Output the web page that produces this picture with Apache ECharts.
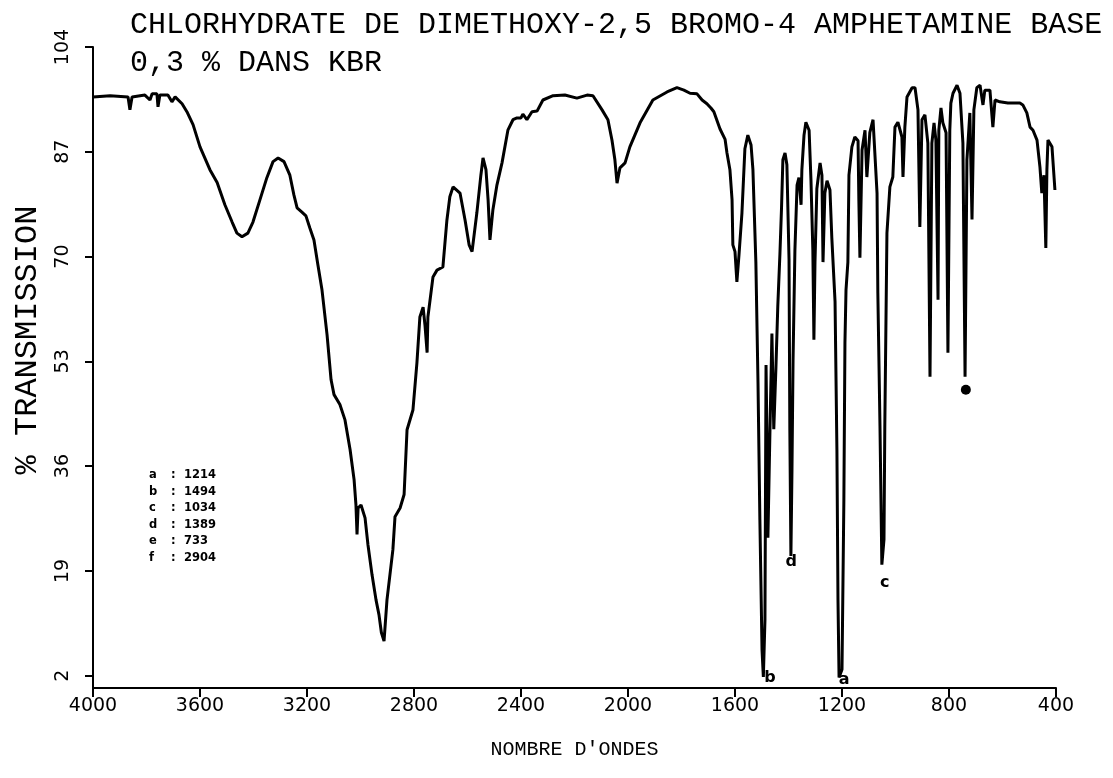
<!DOCTYPE html>
<html>
<head>
<meta charset="utf-8">
<script src="https://cdn.jsdelivr.net/npm/echarts@6/dist/echarts.min.js"></script>
<style>
html,body{margin:0;padding:0;background:#fff;}
#chart{width:1113px;height:778px;}
</style>
</head>
<body>
<div id="chart"></div>
<script>
// ---- data ----
const titleLine1 = "CHLORHYDRATE DE DIMETHOXY-2,5 BROMO-4 AMPHETAMINE BASE";
const titleLine2 = "0,3 % DANS KBR";
const xAxisName = "NOMBRE D'ONDES";
const yAxisName = "% TRANSMISSION";
const yTickValues = [2, 19, 36, 53, 70, 87, 104];

const wavenumbers = [
 4000,3936,3869,3862,3854,3806,3787,3779,3761,3757,3750,3720,3705,3693,3667,3649,3626,3600,3563,3536,
 3507,3480,3462,3443,3421,3402,3376,3350,3327,3308,3286,3264,3249,3237,3219,3204,3189,3174,3159,3144,
 3125,3110,3099,3077,3058,3039,3024,3017,3013,3009,2998,2983,2972,2957,2942,2931,2922,2912,2901,2879,
 2871,2852,2837,2826,2804,2789,2778,2766,2759,2751,2748,2729,2714,2692,2677,2666,2654,2628,2609,2594,
 2583,2565,2550,2542,2531,2523,2516,2505,2490,2471,2449,2430,2415,2400,2393,2378,2359,2340,2318,2280,
 2236,2191,2153,2131,2097,2075,2060,2049,2041,2030,2011,1993,1955,1907,1854,1817,1791,1768,1742,1723,
 1705,1690,1679,1656,1637,1630,1619,1611,1608,1600,1593,1585,1574,1563,1552,1540,1533,1522,1514,1507,
 1499,1494,1488,1484,1480,1477,1469,1462,1455,1447,1440,1432,1426,1421,1413,1406,1398,1395,1391,1387,
 1383,1376,1368,1361,1353,1350,1342,1335,1323,1316,1309,1305,1301,1294,1282,1275,1271,1264,1256,1245,
 1238,1226,1219,1215,1211,1200,1193,1189,1185,1178,1174,1163,1152,1140,1137,1133,1125,1114,1107,1096,
 1084,1069,1066,1058,1051,1043,1040,1032,1021,1010,1002,991,976,972,965,957,938,927,916,909,
 901,890,879,871,864,856,849,841,838,830,823,811,804,797,793,785,770,759,748,740,
 733,722,714,707,696,684,673,666,647,636,628,610,580,535,524,509,497,486,471,460,
 453,445,438,434,430,415,404
];
const transmission = [
 95.9,96.1,95.9,93.8,95.9,96.2,95.4,96.4,96.4,94.3,96.2,96.2,95.1,95.9,94.8,93.5,91.4,87.8,84.1,82.0,
 78.4,75.6,73.8,73.2,73.8,75.6,79.2,82.8,85.4,86.0,85.4,83.2,80.0,77.9,77.2,76.6,74.6,72.7,68.6,64.6,
 57.3,50.0,47.6,46.0,43.5,38.7,33.8,29.7,24.9,29.2,29.7,27.6,23.2,18.4,14.3,11.9,9.0,7.6,14.3,22.4,
 27.8,29.2,31.4,41.9,45.1,52.8,60.2,61.8,58.9,54.4,60.2,66.7,67.8,68.3,75.9,79.7,81.3,80.3,75.9,71.9,
 70.8,77.1,83.2,86.0,84.1,79.2,72.7,77.6,81.6,85.2,90.5,92.2,92.5,92.5,93.1,92.2,93.5,93.6,95.4,96.1,
 96.2,95.7,96.2,96.1,93.8,92.2,88.9,85.7,81.9,84.4,85.2,87.8,91.7,95.4,96.7,97.4,97.0,96.5,96.4,95.4,
 94.8,94.1,93.5,90.7,89.0,86.8,84.1,79.2,71.9,70.8,65.9,70.3,77.1,87.5,89.7,88.1,84.1,69.1,49.5,27.3,
 6.2,1.8,11.1,52.4,38.7,24.4,42.5,57.5,42.0,52.0,62.0,70.5,78.0,85.7,86.8,84.9,69.5,41.9,21.4,35.4,
 53.2,71.1,81.6,82.8,78.4,84.1,89.7,91.8,90.5,82.4,71.1,56.5,69.1,81.0,85.2,83.2,69.1,80.3,82.3,80.8,
 73.0,62.7,38.7,14.3,1.7,3.0,30.5,56.0,64.6,69.1,83.2,87.8,89.4,88.8,79.2,69.8,87.3,90.5,82.9,90.1,
 92.2,80.3,64.1,42.4,20.0,24.1,42.4,73.8,81.3,82.9,91.0,91.8,89.4,82.9,91.0,95.9,97.4,97.4,93.8,74.8,
 92.2,93.0,88.4,50.5,88.4,91.7,88.9,63.0,90.5,94.1,91.7,90.1,54.4,90.5,94.9,96.5,97.8,96.5,88.4,50.5,
 85.7,93.3,76.0,93.8,97.4,97.8,94.6,97.0,97.0,91.0,95.4,95.1,94.9,94.9,94.6,93.3,91.0,90.5,88.9,84.5,
 80.3,83.2,71.4,84.1,88.9,87.8,80.8
];

// peak letter marks on the trace
const peakLetters = ["b", "a", "d", "c"];
const peakLetterWn = [1469, 1192, 1390, 1040];
const peakLetterT = [1.6, 1.4, 20.4, 17.0];
const dotMarkWn = [737];
const dotMarkT = [48.4];

// assignment list
const legendLetters = ["a", "b", "c", "d", "e", "f"];
const legendValues = ["1214", "1494", "1034", "1389", "733", "2904"];

// ---- chart ----
const chart = echarts.init(document.getElementById('chart'), null, {renderer: 'canvas'});
const spectrum = wavenumbers.map((w, i) => [w, transmission[i]]);
const letterData = peakLetters.map((l, i) => ({value: [peakLetterWn[i], peakLetterT[i]], name: l}));
const dotData = dotMarkWn.map((w, i) => [w, dotMarkT[i]]);

const legendFont = 'bold 11.5px "DejaVu Sans"';
const legendGraphics = [];
legendLetters.forEach((l, i) => {
  legendGraphics.push({type: 'text', left: 149, top: 469 + i * 16.6,
    style: {text: l, font: legendFont, fill: '#000'}});
  legendGraphics.push({type: 'text', left: 171, top: 469 + i * 16.6,
    style: {text: ':', font: legendFont, fill: '#000'}});
  legendGraphics.push({type: 'text', left: 184, top: 469 + i * 16.6,
    style: {text: legendValues[i], font: legendFont, fill: '#000'}});
});

const option = {
  backgroundColor: '#fff',
  animation: false,
  grid: {left: 93, right: 57, top: 47, bottom: 90, containLabel: false},
  xAxis: {
    type: 'value', min: 400, max: 4000, interval: 400, inverse: true,
    name: xAxisName, nameLocation: 'middle', nameGap: 52,
    nameTextStyle: {fontFamily: 'Liberation Mono', fontSize: 20, color: '#000'},
    axisLine: {show: true, onZero: false, lineStyle: {color: '#000', width: 2}},
    axisTick: {show: true, inside: false, length: 9, lineStyle: {color: '#000', width: 2}},
    axisLabel: {color: '#000', fontFamily: 'DejaVu Sans', fontSize: 19, margin: 9,
      formatter: v => String(v)},
    splitLine: {show: false}
  },
  yAxis: {
    type: 'value', min: 0, max: 104,
    axisLine: {show: true, lineStyle: {color: '#000', width: 2}},
    axisTick: {show: true, length: 8, customValues: yTickValues, lineStyle: {color: '#000', width: 2}},
    axisLabel: {color: '#000', fontFamily: 'DejaVu Sans', fontSize: 19, rotate: 90, margin: 20,
      customValues: yTickValues, formatter: v => String(v)},
    splitLine: {show: false}
  },
  graphic: [
    {type: 'text', left: 130, top: 10, style: {text: titleLine1, font: '30px "Liberation Mono"', fill: '#000'}},
    {type: 'text', left: 130, top: 48, style: {text: titleLine2, font: '30px "Liberation Mono"', fill: '#000'}},
    {type: 'text', x: 28, y: 340, rotation: Math.PI / 2,
      style: {text: yAxisName, font: '32px "Liberation Mono"', fill: '#000', align: 'center', verticalAlign: 'middle'}},
    ...legendGraphics
  ],
  series: [
    {
      type: 'line', data: spectrum, showSymbol: false, symbol: 'none', smooth: false,
      lineStyle: {color: '#000', width: 3, opacity: 1}, z: 3
    },
    {
      type: 'scatter', data: letterData, symbolSize: 0,
      itemStyle: {opacity: 1, color: '#000'},
      label: {show: true, position: 'inside', formatter: p => p.name,
        fontFamily: 'DejaVu Sans', fontWeight: 'bold', fontSize: 16, color: '#000', opacity: 1}, z: 4
    },
    {
      type: 'scatter', data: dotData, symbol: 'circle', symbolSize: 10,
      itemStyle: {color: '#000', opacity: 1}, z: 4
    }
  ]
};
chart.setOption(option);
</script>
</body>
</html>
